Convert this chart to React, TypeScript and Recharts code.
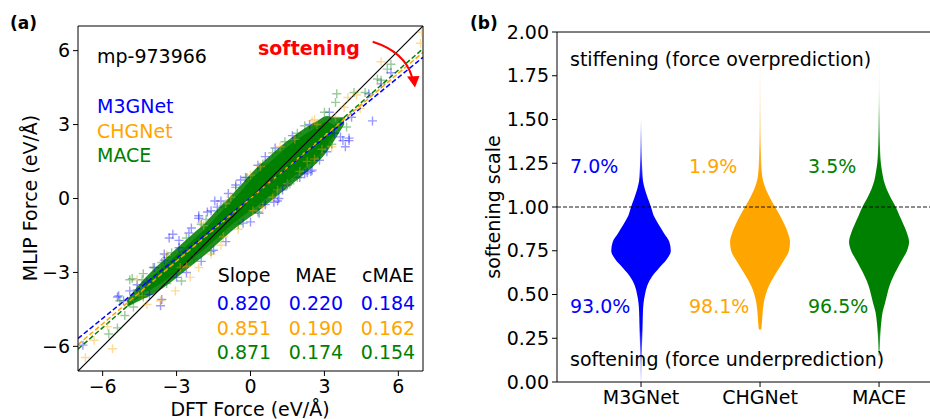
import { ComposedChart, Area, Scatter, XAxis, YAxis, ReferenceLine } from "recharts";

const FONT = "DejaVu Sans, sans-serif";
const BLUE = "#0000ff";
const ORANGE = "#ffa500";
const GREEN = "#008000";

// ---- (a) parity plot data ----
const models = ["M3GNet", "CHGNet", "MACE"];
const slopes = ["0.820", "0.851", "0.871"];
const maes = ["0.220", "0.190", "0.174"];
const cmaes = ["0.184", "0.162", "0.154"];

// fitted lines, read at x = -7 and x = 7
const fitLeft = [-5.68, -5.93, -6.11];
const fitRight = [5.73, 5.93, 6.08];

// dense core of the cloud (solid green) and its softer halo
const bandX = [-5.0, -4.3, -3.8, -3.3, -2.8, -2.3, -1.8, -1.3, -0.8, -0.3, 0.2, 0.7, 1.2, 1.7, 2.2, 2.7, 3.1, 3.4, 3.8];
const coreLow = [null, -3.8, -3.55, -3.2, -2.8, -2.4, -2.0, -1.55, -1.1, -0.7, -0.35, 0.05, 0.45, 0.85, 1.25, 1.7, 2.15, 2.6, null];
const coreHigh = [null, -3.45, -3.0, -2.55, -2.1, -1.65, -1.2, -0.65, -0.15, 0.4, 0.95, 1.4, 1.85, 2.25, 2.6, 2.9, 3.1, 2.95, null];
const haloLow = [-4.4, -4.05, -3.8, -3.45, -3.05, -2.65, -2.25, -1.8, -1.35, -0.95, -0.6, -0.2, 0.2, 0.6, 1.0, 1.45, 1.9, 2.35, 3.0];
const haloHigh = [-4.1, -3.25, -2.75, -2.3, -1.85, -1.4, -0.95, -0.4, 0.1, 0.65, 1.2, 1.65, 2.1, 2.5, 2.85, 3.15, 3.35, 3.3, 3.3];

// scattered points outside the core
const m3gnetPoints = [
  [-6.8, -5.95], [-5.4, -4.0], [-5.15, -4.15], [-5.35, -3.95], [-4.9, -3.75], [-4.6, -3.5], [-4.2, -3.4],
  [-3.65, -4.35], [-3.6, -4.1], [-3.5, -2.5], [-3.5, -2.25], [-3.15, -1.45], [-3.3, -1.6], [-2.9, -2.0],
  [-2.5, -1.4], [-2.1, -0.7], [-2.1, -0.8], [-1.75, -0.55], [-1.35, -0.35], [-1.45, -0.1], [-1.2, -0.1],
  [-0.6, 0.55], [-0.2, 0.85], [0.3, 1.35], [0.35, -0.6], [0.95, -0.15], [1.1, -0.1], [1.15, 0.0],
  [1.5, 0.55], [2.0, 0.85], [2.3, 1.05], [2.45, 1.1], [2.5, 1.15], [2.8, 1.55], [3.4, 2.65], [3.65, 2.5],
  [3.75, 2.35], [4.0, 2.45], [4.0, 2.35], [3.85, 2.1], [4.1, 3.3], [4.95, 3.15], [3.2, 3.5], [4.8, 4.25],
  [5.3, 4.65], [5.7, 5.1], [-1.0, -1.75], [0.0, -0.95], [-2.0, -2.55], [-2.6, -3.0], [-4.1, -3.9],
  [1.7, 2.55], [-3.9, -2.8], [-0.9, 0.2],
  [-2.9, -1.7], [-2.4, -1.2], [-1.6, -0.5], [-0.4, 0.75], [0.6, 1.7], [1.0, 2.05], [2.4, 3.0],
  [-3.0, -3.2], [-1.5, -2.1], [-0.3, -1.0], [0.6, -0.25], [1.3, 0.35], [2.2, 1.0], [3.1, 1.9],
];
const chgnetPoints = [
  [-6.7, -6.45], [-5.6, -6.1], [-6.35, -5.75], [-5.8, -5.2], [-4.4, -3.95], [-3.65, -4.15], [-3.05, -3.75],
  [-2.45, -3.2], [-2.1, -2.8], [-2.85, -2.8], [-1.6, -2.25], [-1.2, -1.9], [-0.5, -1.25], [0.5, -0.35],
  [0.9, 0.05], [1.5, 0.6], [2.3, 1.5], [2.9, 2.0], [2.5, 3.15], [2.6, 3.2], [3.45, 3.3], [3.8, 3.7],
  [3.95, 4.1], [4.45, 3.65], [4.3, 4.2], [5.3, 5.55], [6.9, 6.3], [-2.0, -1.0], [-4.6, -3.3], [-3.4, -2.3],
  [0.0, 0.95], [1.2, 2.1], [-1.0, -0.2], [3.3, 2.1], [-4.2, -4.3], [6.95, 6.75],
  [-1.9, -1.1], [-0.8, 0.05], [0.4, 1.3], [1.8, 2.4], [2.7, 3.0],
  [-2.6, -2.75], [-1.1, -1.55], [0.1, -0.5], [1.1, 0.35], [2.0, 1.1], [2.6, 1.6],
];
const macePoints = [
  [-5.75, -5.5], [-5.4, -5.25], [-5.1, -4.75], [-5.3, -4.15], [-4.75, -4.4], [-4.35, -4.0], [-4.8, -3.25],
  [-4.35, -3.05], [-4.9, -3.3], [-4.4, -3.3], [-3.8, -3.25], [-2.8, -3.35], [-3.95, -2.8], [-3.6, -2.6],
  [-3.2, -2.2], [-2.6, -1.6], [-1.8, -0.85], [-1.1, -0.3], [-0.15, 0.85], [0.5, 1.4], [-0.5, -1.05],
  [1.0, 0.2], [1.9, 0.85], [2.55, 2.9], [3.0, 3.5], [3.45, 3.9], [3.5, 4.25], [4.2, 4.3], [4.65, 4.3],
  [5.15, 4.85], [5.3, 4.8], [5.55, 5.25], [5.7, 5.45], [2.2, 2.95], [-4.6, -3.7], [-4.0, -3.55],
  [-3.0, -2.85], [1.4, 2.3], [3.9, 2.9], [-2.3, -2.45], [2.8, 1.8],
  [-3.4, -2.4], [-2.0, -1.05], [-0.6, 0.45], [0.9, 1.85], [1.9, 2.65],
  [-3.4, -3.45], [-1.6, -2.15], [0.3, -0.55], [1.6, 0.6], [2.5, 1.45], [3.3, 2.2],
];

// ---- (b) violin data: half widths (in category units) at each softening-scale level ----
const levels = [0, 0.05, 0.1, 0.15, 0.2, 0.25, 0.3, 0.35, 0.4, 0.45, 0.5, 0.55, 0.6, 0.65, 0.7, 0.75, 0.8, 0.85, 0.9, 0.95,
  1.0, 1.05, 1.1, 1.15, 1.2, 1.25, 1.3, 1.4, 1.5, 1.6, 1.7, 1.8, 1.9, 2.0];
const m3gnetWidth = [0.003, 0.004, 0.005, 0.007, 0.008, 0.01, 0.012, 0.014, 0.016, 0.021, 0.033, 0.052, 0.09, 0.15, 0.215, 0.25,
  0.238, 0.193, 0.148, 0.107, 0.084, 0.057, 0.033, 0.016, 0.011, 0.008, 0.006, 0.004, 0.001, null, null, null, null, null];
const chgnetWidth = [null, null, null, null, null, null, 0.01, 0.017, 0.022, 0.031, 0.048, 0.075, 0.115, 0.16, 0.205, 0.243,
  0.252, 0.235, 0.205, 0.168, 0.126, 0.085, 0.05, 0.025, 0.014, 0.01, 0.008, 0.005, 0.004, 0.003, 0.003, 0.002, 0.002, 0.001];
const maceWidth = [null, null, null, 0.004, 0.007, 0.009, 0.013, 0.02, 0.03, 0.05, 0.068, 0.088, 0.118, 0.155, 0.195, 0.235,
  0.252, 0.235, 0.205, 0.172, 0.14, 0.1, 0.065, 0.04, 0.026, 0.015, 0.01, 0.006, 0.004, 0.002, 0.001, 0.001, 0.001, 0.001];
const overPct = ["7.0%", "1.9%", "3.5%"];
const underPct = ["93.0%", "98.1%", "96.5%"];

const colors = [BLUE, ORANGE, GREEN];

const bandRows = bandX.map((x, i) => ({
  x,
  core: coreLow[i] == null ? null : [coreLow[i], coreHigh[i]],
  halo: [haloLow[i], haloHigh[i]],
}));

const toPts = (arr: number[][]) => arr.map(([x, y]) => ({ x, y }));

const span = (w: number | null, pos: number) => (w == null ? null : [pos - w, pos + w]);
const violinRows = levels.map((level, i) => ({
  level,
  m3: span(m3gnetWidth[i], 1),
  ch: span(chgnetWidth[i], 2),
  mace: span(maceWidth[i], 3),
}));

const plus = (color: string) => (props: any) => {
  const { cx, cy } = props;
  if (cx == null || cy == null) return <g />;
  return (
    <path
      d={`M${cx - 4.5},${cy}h9M${cx},${cy - 4.5}v9`}
      stroke={color}
      strokeWidth={1.4}
      strokeOpacity={0.4}
      fill="none"
    />
  );
};

const minus = (v: number) => (v < 0 ? `\u2212${-v}` : `${v}`);
const tickStyle = { fill: "#000", fontSize: 19, fontFamily: FONT };
const black = { stroke: "#000" };

const txt = { fontFamily: FONT, fontSize: 19 };

export default function App() {
  return (
    <div style={{ position: "absolute", left: 0, top: 0, width: 930, height: 419, background: "#fff" }}>
      <div style={{ position: "absolute", left: 0, top: 0 }}>
        <ComposedChart width={440} height={419} data={bandRows} margin={{ top: 26, right: 17, bottom: 18, left: 18 }}>
          <XAxis type="number" dataKey="x" domain={[-7, 7]} ticks={[-6, -3, 0, 3, 6]} allowDataOverflow
            tickFormatter={minus} tick={tickStyle} tickSize={5} tickMargin={4} axisLine={black} tickLine={black} height={30} />
          <YAxis type="number" dataKey="y" domain={[-7, 7]} ticks={[-6, -3, 0, 3, 6]} allowDataOverflow
            tickFormatter={minus} tick={tickStyle} tickSize={5} tickMargin={3} axisLine={black} tickLine={black} width={60} />
          <Scatter data={toPts(m3gnetPoints)} shape={plus(BLUE)} isAnimationActive={false} />
          <Scatter data={toPts(chgnetPoints)} shape={plus(ORANGE)} isAnimationActive={false} />
          <Area dataKey="halo" type="monotone" stroke="none" fill={GREEN} fillOpacity={0.88} isAnimationActive={false} />
          <Area dataKey="core" type="monotone" stroke="none" fill={GREEN} fillOpacity={1} isAnimationActive={false} />
          <Scatter data={toPts(macePoints)} shape={plus(GREEN)} isAnimationActive={false} />
          <ReferenceLine segment={[{ x: -7, y: -7 }, { x: 7, y: 7 }]} stroke="#000" strokeWidth={1.2} ifOverflow="hidden" />
          {models.map((m, i) => (
            <ReferenceLine key={m} segment={[{ x: -7, y: fitLeft[i] }, { x: 7, y: fitRight[i] }]}
              stroke={colors[i]} strokeWidth={1.5} strokeDasharray="5 2.5" ifOverflow="hidden" />
          ))}
          <ReferenceLine y={7} stroke="#000" />
          <ReferenceLine x={7} stroke="#000" />
        </ComposedChart>
      </div>

      <div style={{ position: "absolute", left: 470, top: 0 }}>
        <ComposedChart width={460} height={419} layout="vertical" data={violinRows}
          margin={{ top: 32, right: 0, bottom: 7, left: 17 }}>
          <defs>
            <linearGradient id="fadeM3" x1="0" y1="0" x2="0" y2="1">
              <stop offset="0" stopColor={BLUE} stopOpacity={0.1} />
              <stop offset="0.13" stopColor={BLUE} stopOpacity={0.6} />
              <stop offset="0.23" stopColor={BLUE} stopOpacity={1} />
              <stop offset="0.8" stopColor={BLUE} stopOpacity={1} />
              <stop offset="0.9" stopColor={BLUE} stopOpacity={0.5} />
              <stop offset="1" stopColor={BLUE} stopOpacity={0.1} />
            </linearGradient>
            <linearGradient id="fadeCH" x1="0" y1="0" x2="0" y2="1">
              <stop offset="0" stopColor={ORANGE} stopOpacity={0} />
              <stop offset="0.18" stopColor={ORANGE} stopOpacity={0.15} />
              <stop offset="0.35" stopColor={ORANGE} stopOpacity={0.6} />
              <stop offset="0.47" stopColor={ORANGE} stopOpacity={1} />
              <stop offset="1" stopColor={ORANGE} stopOpacity={1} />
            </linearGradient>
            <linearGradient id="fadeMACE" x1="0" y1="0" x2="0" y2="1">
              <stop offset="0" stopColor={GREEN} stopOpacity={0} />
              <stop offset="0.16" stopColor={GREEN} stopOpacity={0.2} />
              <stop offset="0.32" stopColor={GREEN} stopOpacity={0.7} />
              <stop offset="0.4" stopColor={GREEN} stopOpacity={1} />
              <stop offset="0.92" stopColor={GREEN} stopOpacity={1} />
              <stop offset="1" stopColor={GREEN} stopOpacity={0.5} />
            </linearGradient>
          </defs>
          <XAxis type="number" domain={[0.294, 3.428]} ticks={[1, 2, 3]} allowDataOverflow
            tickFormatter={(v: number) => models[v - 1]} tick={tickStyle} tickSize={5} tickMargin={4}
            axisLine={black} tickLine={black} height={30} />
          <YAxis type="number" dataKey="level" domain={[0, 2]} ticks={[0, 0.25, 0.5, 0.75, 1, 1.25, 1.5, 1.75, 2]}
            reversed allowDataOverflow tickFormatter={(v: number) => v.toFixed(2)} tick={tickStyle} tickSize={5}
            tickMargin={3} axisLine={black} tickLine={black} width={70} />
          <Area dataKey="m3" type="monotone" stroke="none" fill="url(#fadeM3)" fillOpacity={1} isAnimationActive={false} />
          <Area dataKey="ch" type="monotone" stroke="none" fill="url(#fadeCH)" fillOpacity={1} isAnimationActive={false} />
          <Area dataKey="mace" type="monotone" stroke="none" fill="url(#fadeMACE)" fillOpacity={1} isAnimationActive={false} />
          <ReferenceLine y={1} stroke="#000" strokeWidth={0.9} strokeDasharray="4 2" />
          <ReferenceLine y={2} stroke="#000" />
        </ComposedChart>
      </div>

      <svg width={930} height={419} style={{ position: "absolute", left: 0, top: 0, pointerEvents: "none" }}>
        <text x={10} y={29} fontFamily={FONT} fontSize={17} fontWeight="bold">(a)</text>
        <text x={470} y={29} fontFamily={FONT} fontSize={17} fontWeight="bold">(b)</text>

        <text {...txt} x={97} y={63}>mp-973966</text>
        {models.map((m, i) => (
          <text key={m} {...txt} x={97} y={113 + i * 24.5} fill={colors[i]}>{m}</text>
        ))}
        <text x={258} y={55} fontFamily={FONT} fontSize={19} fontWeight="bold" fill="#ff0000">softening</text>
        <path d="M372.7,41.7 Q405,52 412,77" stroke="#ff0000" strokeWidth={2} fill="none" />
        <polygon points="407,76.5 419.5,76 415,87.5" fill="#ff0000" />

        {["Slope", "MAE", "cMAE"].map((h, j) => (
          <text key={h} {...txt} x={244 + j * 72} y={282} textAnchor="middle">{h}</text>
        ))}
        {models.map((m, i) => (
          [slopes[i], maes[i], cmaes[i]].map((v, j) => (
            <text key={m + j} {...txt} x={244 + j * 72} y={310 + i * 24.5} textAnchor="middle" fill={colors[i]}>{v}</text>
          ))
        ))}

        <text {...txt} x={250} y={416} textAnchor="middle">DFT Force (eV/Å)</text>
        <text {...txt} x={0} y={0} textAnchor="middle" transform="translate(37,198) rotate(-90)">MLIP Force (eV/Å)</text>

        <text {...txt} x={570} y={66}>stiffening (force overprediction)</text>
        <text {...txt} x={570} y={366}>softening (force underprediction)</text>
        {models.map((m, i) => (
          <text key={m + "o"} {...txt} x={570 + i * 119} y={173} fill={colors[i]}>{overPct[i]}</text>
        ))}
        {models.map((m, i) => (
          <text key={m + "u"} {...txt} x={570 + i * 119} y={313} fill={colors[i]}>{underPct[i]}</text>
        ))}
        <text {...txt} x={0} y={0} textAnchor="middle" transform="translate(500,207) rotate(-90)">softening scale</text>
      </svg>
    </div>
  );
}
